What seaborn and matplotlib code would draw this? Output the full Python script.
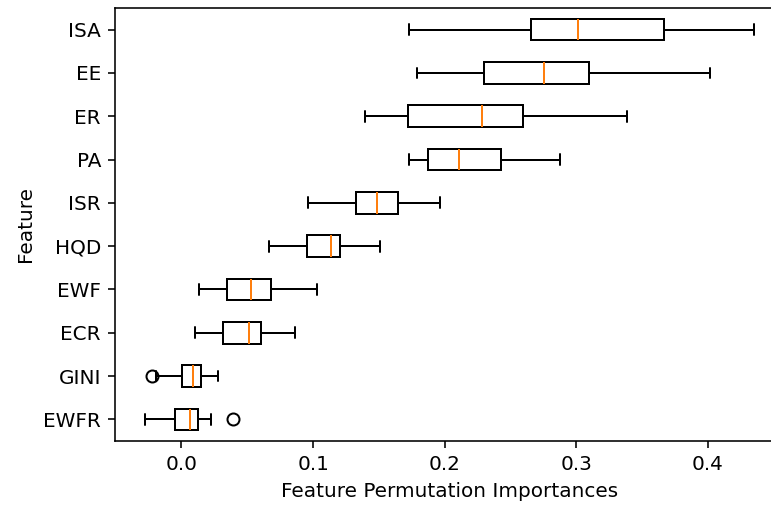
import numpy as np
import pandas as pd
import matplotlib
matplotlib.use("Agg")
import matplotlib.pyplot as plt
import seaborn as sns

# --- data (permutation importances per feature) ---
features = ["ISA", "EE", "ER", "PA", "ISR", "HQD", "EWF", "ECR", "GINI", "EWFR"]

# five-number summaries: whisker low, q1, median, q3, whisker high
isa = [0.1728, 0.2652, 0.3015, 0.3666, 0.4347]
ee = [0.1788, 0.2300, 0.2757, 0.3094, 0.4018]
er = [0.1391, 0.1724, 0.2285, 0.2592, 0.3382]
pa = [0.1728, 0.1874, 0.2106, 0.2424, 0.2877]
isr = [0.0965, 0.1328, 0.1485, 0.1649, 0.1967]
hqd = [0.0665, 0.0950, 0.1133, 0.1208, 0.1511]
ewf = [0.0134, 0.0344, 0.0527, 0.0677, 0.1028]
ecr = [0.0104, 0.0314, 0.0512, 0.0606, 0.0860]
# these two have an outlier, so the points are padded to keep the quartiles
gini = [-0.0222, -0.0195, 0.0005, 0.0005, 0.0088, 0.0150, 0.0150, 0.0276, 0.0276]
ewfr = [-0.0274, -0.0274, -0.0048, -0.0048, 0.0063, 0.0122, 0.0122, 0.0225, 0.0390]

values = [isa, ee, er, pa, isr, hqd, ewf, ecr, gini, ewfr]

df = pd.DataFrame({
    "Feature": np.repeat(features, [len(v) for v in values]),
    "Importance": np.concatenate(values),
})

sns.set_style("ticks")
plt.rcParams["font.family"] = ["DejaVu Sans"]
plt.rcParams["text.color"] = "black"
plt.rcParams["axes.labelcolor"] = "black"
plt.rcParams["xtick.color"] = "black"
plt.rcParams["ytick.color"] = "black"
plt.rcParams["axes.edgecolor"] = "black"
plt.rcParams["font.size"] = 10

dpi = 144
fig = plt.figure(figsize=(771 / dpi, 506 / dpi), dpi=dpi)
ax = fig.add_axes([115 / 771, 1 - 441 / 506, 669 / 771, 433 / 506])

sns.boxplot(
    data=df, x="Importance", y="Feature", order=features, ax=ax,
    orient="h", width=0.5, color="white", linecolor="black", linewidth=1,
    fliersize=6,
    medianprops={"color": "#ff7f0e"},
    flierprops={"marker": "o", "markerfacecolor": "none",
                "markeredgecolor": "black"},
)

ax.set_xlim(-0.0505, 0.4578)
ax.set_xticks([0.0, 0.1, 0.2, 0.3, 0.4])
ax.set_xlabel("Feature Permutation Importances")
ax.set_ylabel("Feature")
ax.tick_params(length=3.5, width=0.8)
for s in ax.spines.values():
    s.set_linewidth(0.8)

fig.savefig("out.png", dpi=dpi)
